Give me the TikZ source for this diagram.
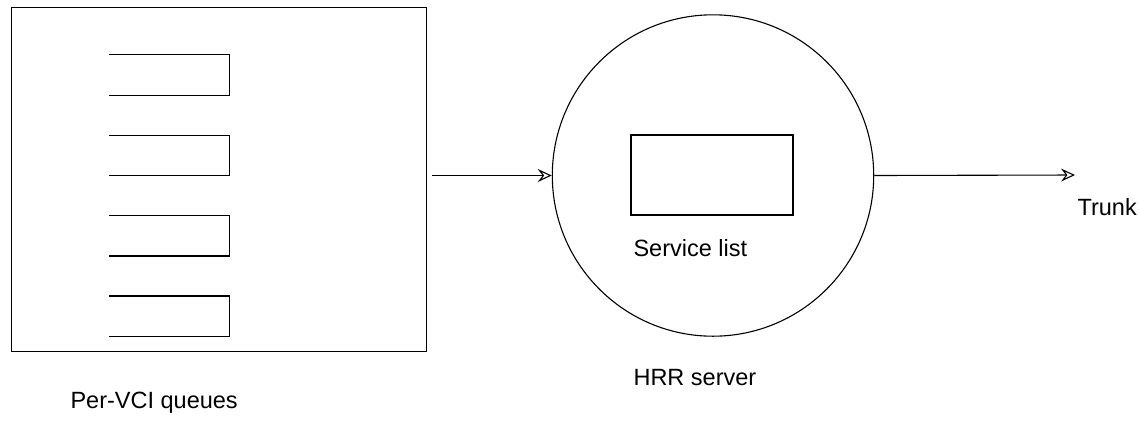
\documentclass[tikz,border=0pt]{standalone}
\usepackage{fontspec}
\setmainfont{Liberation Sans}
\usetikzlibrary{arrows.meta}
\begin{document}
\begin{tikzpicture}[x=1pt,y=-1pt,
  line width=1.1pt,
  lbl/.style={inner sep=0pt,font=\fontsize{23.5}{28}\selectfont},
  flow/.style={draw,-{Stealth[open,length=14pt,width=13pt,inset=5pt]}},
  queue/.style={draw}]
\useasboundingbox (0,0) rectangle (1139,424);
\node[draw,minimum width=415.3pt,minimum height=344.6pt,inner sep=0pt,anchor=north west] (box) at (10.7,6.7) {};
\foreach \t/\b [count=\i] in {54.3/95.3,135.3/175.7,215.7/256,296/336.7}{
  \draw[queue] (109,\t) -- (229.7,\t) -- (229.7,\b) -- (109,\b);
}
\node[draw,circle,minimum size=321.4pt,inner sep=0pt] (srv) at (713,175.5) {};
\node[draw,minimum width=162pt,minimum height=80pt,inner sep=0pt] (list) at (712,175) {};
\coordinate (trunkend) at (1075,175);
\draw[flow,shorten <=5pt] (box.east |- srv.west) -- (srv.west);
\draw[flow] (srv.east) -- (trunkend);
\node[lbl,anchor=base west] (ltrunk) at (1077,215) {Trunk};
\node[lbl,anchor=base west] (llist) at (633,256) {Service list};
\node[lbl,anchor=base west] (lsrv) at (633,385) {HRR server};
\node[lbl,anchor=base west] (lq) at (70,408) {Per-VCI queues};
\end{tikzpicture}
\end{document}
